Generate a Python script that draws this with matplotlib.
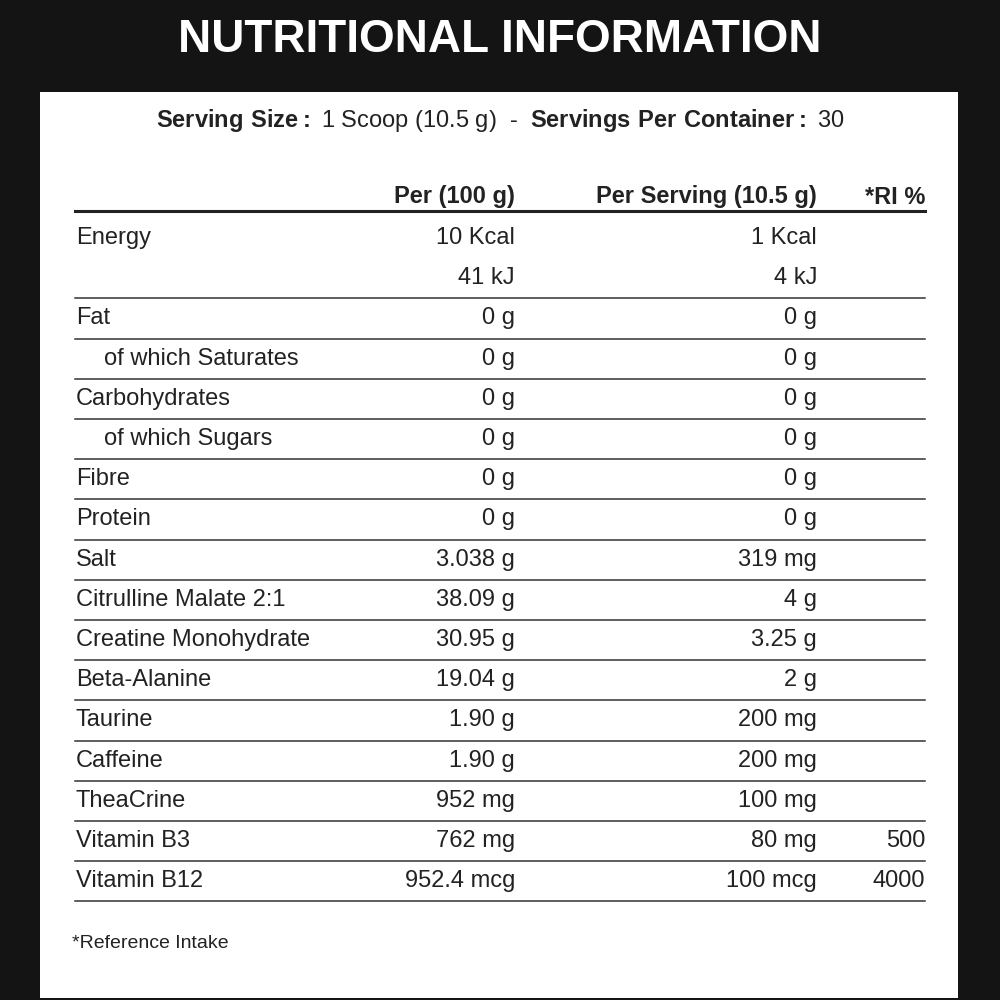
import matplotlib.pyplot as plt
from matplotlib.patches import Rectangle

plt.rcParams["font.family"] = ["Liberation Sans", "DejaVu Sans"]
plt.rcParams["mathtext.fontset"] = "custom"
plt.rcParams["mathtext.rm"] = "Liberation Sans"
plt.rcParams["mathtext.bf"] = "Liberation Sans:bold"

title = "NUTRITIONAL INFORMATION"
columns = ["Per (100 g)", "Per Serving (10.5 g)", "*RI %"]
labels = ["Energy", "", "Fat", "of which Saturates", "Carbohydrates", "of which Sugars",
          "Fibre", "Protein", "Salt", "Citrulline Malate 2:1", "Creatine Monohydrate",
          "Beta-Alanine", "Taurine", "Caffeine", "TheaCrine", "Vitamin B3", "Vitamin B12"]
per100 = ["10 Kcal", "41 kJ", "0 g", "0 g", "0 g", "0 g", "0 g", "0 g", "3.038 g",
          "38.09 g", "30.95 g", "19.04 g", "1.90 g", "1.90 g", "952 mg", "762 mg", "952.4 mcg"]
perserv = ["1 Kcal", "4 kJ", "0 g", "0 g", "0 g", "0 g", "0 g", "0 g", "319 mg",
           "4 g", "3.25 g", "2 g", "200 mg", "200 mg", "100 mg", "80 mg", "100 mcg"]
ri = [""] * 15 + ["500", "4000"]

fig = plt.figure(figsize=(10, 10), dpi=100)
fig.patch.set_facecolor("#111111")
ax = fig.add_axes([0, 0, 1, 1])
ax.set_xlim(0, 1000)
ax.set_ylim(1000, 0)
ax.axis("off")

ax.add_patch(Rectangle((0, 0), 1000, 1000, color="#141414"))
ax.add_patch(Rectangle((40, 92), 918, 906, facecolor="white", edgecolor="none"))

ax.text(500, 40, title, color="white", fontsize=33, fontweight="bold",
        ha="center", va="center")

fs = 17
col = "#222222"
ax.text(500, 121, r"$\mathbf{Serving\ Size:}$ 1 Scoop (10.5 g)  -  $\mathbf{Servings\ Per\ Container:}$ 30",
        fontsize=fs, ha="center", va="center", color=col)

xs = [515, 817, 925]
for x, c in zip(xs, columns):
    ax.text(x, 197, c, fontsize=fs, fontweight="bold", ha="right", va="center", color=col)
ax.plot([75, 925], [211, 211], color="#222222", lw=2.2)

y0 = 238
step = 40.2
for i, lab in enumerate(labels):
    y = y0 + i * step
    indent = 28 if lab.startswith("of which") else 0
    ax.text(76 + indent, y, lab, fontsize=fs, ha="left", va="center", color=col)
    ax.text(xs[0], y, per100[i], fontsize=fs, ha="right", va="center", color=col)
    ax.text(xs[1], y, perserv[i], fontsize=fs, ha="right", va="center", color=col)
    ax.text(xs[2], y, ri[i], fontsize=fs, ha="right", va="center", color=col)
    if i >= 1:
        ax.plot([75, 925], [y + step / 2, y + step / 2], color="#333333", lw=1.1)

ax.text(72, 943, "*Reference Intake", fontsize=14, ha="left", va="center", color=col)

fig.savefig("out.png", dpi=100, facecolor=fig.get_facecolor())
